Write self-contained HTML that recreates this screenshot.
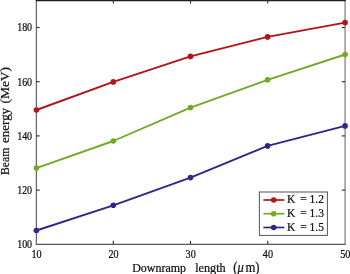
<!DOCTYPE html>
<html><head><meta charset="utf-8"><style>
html,body{margin:0;padding:0;background:#fff;width:350px;height:274px;overflow:hidden}
svg{display:block;will-change:transform}
text{font-family:"Liberation Serif",serif;fill:#111;stroke:#111;stroke-width:0.22px}
</style></head><body>
<svg width="350" height="274" viewBox="0 0 350 274">
<rect width="350" height="274" fill="#fff"/>
<line x1="36.4" y1="0" x2="36.4" y2="244.3" stroke="#6a6a6a" stroke-width="1.3"/>
<line x1="345.1" y1="0" x2="345.1" y2="244.3" stroke="#858585" stroke-width="1.3"/>
<line x1="35.8" y1="244.3" x2="345.7" y2="244.3" stroke="#5a5a5a" stroke-width="1.3"/>
<line x1="35.8" y1="0.6" x2="345.7" y2="0.6" stroke="#1e1e1e" stroke-width="1.2"/>
<g stroke="#333" stroke-width="1.15"><line x1="113.35" y1="244" x2="113.35" y2="240.8"/><line x1="113.35" y1="0" x2="113.35" y2="3.6"/><line x1="190.5" y1="244" x2="190.5" y2="240.8"/><line x1="190.5" y1="0" x2="190.5" y2="3.6"/><line x1="267.75" y1="244" x2="267.75" y2="240.8"/><line x1="267.75" y1="0" x2="267.75" y2="3.6"/><line x1="36.4" y1="190.1" x2="39.7" y2="190.1"/><line x1="345.1" y1="190.1" x2="341.8" y2="190.1"/><line x1="36.4" y1="135.9" x2="39.7" y2="135.9"/><line x1="345.1" y1="135.9" x2="341.8" y2="135.9"/><line x1="36.4" y1="81.7" x2="39.7" y2="81.7"/><line x1="345.1" y1="81.7" x2="341.8" y2="81.7"/><line x1="36.4" y1="27.5" x2="39.7" y2="27.5"/><line x1="345.1" y1="27.5" x2="341.8" y2="27.5"/></g>
<g fill="none" stroke-width="1.9" stroke-linejoin="round">
<polyline stroke="#b2141a" points="36.4,110 113.3,81.9 190.5,56.4 267.6,36.9 345.1,22.6"/>
<polyline stroke="#72aa28" points="36.4,168.1 113.3,141 190.5,107.6 267.6,79.8 345.1,54.5"/>
<polyline stroke="#2d2887" points="36.4,230.5 113.3,205.3 190.5,177.6 267.6,145.9 345.1,125.9"/>
</g>
<circle cx="36.4" cy="110" r="2.8" fill="#b2141a"/><circle cx="113.3" cy="81.9" r="2.8" fill="#b2141a"/><circle cx="190.5" cy="56.4" r="2.8" fill="#b2141a"/><circle cx="267.6" cy="36.9" r="2.8" fill="#b2141a"/><circle cx="345.1" cy="22.6" r="2.8" fill="#b2141a"/><circle cx="36.4" cy="168.1" r="2.8" fill="#72aa28"/><circle cx="113.3" cy="141" r="2.8" fill="#72aa28"/><circle cx="190.5" cy="107.6" r="2.8" fill="#72aa28"/><circle cx="267.6" cy="79.8" r="2.8" fill="#72aa28"/><circle cx="345.1" cy="54.5" r="2.8" fill="#72aa28"/><circle cx="36.4" cy="230.5" r="2.8" fill="#2d2887"/><circle cx="113.3" cy="205.3" r="2.8" fill="#2d2887"/><circle cx="190.5" cy="177.6" r="2.8" fill="#2d2887"/><circle cx="267.6" cy="145.9" r="2.8" fill="#2d2887"/><circle cx="345.1" cy="125.9" r="2.8" fill="#2d2887"/>
<g font-size="10.5"><text transform="translate(32.1,248.20) scale(0.95,1.1)" text-anchor="end">100</text><text transform="translate(32.1,194.00) scale(0.95,1.1)" text-anchor="end">120</text><text transform="translate(32.1,139.80) scale(0.95,1.1)" text-anchor="end">140</text><text transform="translate(32.1,85.60) scale(0.95,1.1)" text-anchor="end">160</text><text transform="translate(32.1,31.40) scale(0.95,1.1)" text-anchor="end">180</text><text transform="translate(36.55,258.2) scale(0.97,1.1)" text-anchor="middle">10</text><text transform="translate(113.50,258.2) scale(0.97,1.1)" text-anchor="middle">20</text><text transform="translate(190.65,258.2) scale(0.97,1.1)" text-anchor="middle">30</text><text transform="translate(267.90,258.2) scale(0.97,1.1)" text-anchor="middle">40</text><text transform="translate(345.25,258.2) scale(0.97,1.1)" text-anchor="middle">50</text></g>
<g font-size="12">
<text transform="translate(132.15,271.6) scale(1,1.1)">Downramp</text>
<text transform="translate(195.15,271.6) scale(1,1.1)" font-size="12.25">length</text>
<text transform="translate(233.35,271.6) scale(1,1.1)" font-size="12.5">(</text>
<text transform="translate(237.6,271.6) scale(1,1.1)" font-size="12.5" font-style="italic">μ</text>
<text transform="translate(245.5,271.6) scale(1,1.1)" font-size="12.7">m)</text>
</g>
<g font-size="12">
<text transform="translate(8.8,174.94) rotate(-90) scale(0.97,1)">Beam</text>
<text transform="translate(8.8,142.9) rotate(-90) scale(1.08,1)">energy</text>
<text transform="translate(8.8,103.5) rotate(-90) scale(1.117,1)">(MeV)</text>
</g>
<rect x="259.4" y="192" width="68" height="43.4" fill="#fff" stroke="#555" stroke-width="1"/>
<g stroke-width="1.7">
<line x1="263.4" y1="200" x2="284.3" y2="200" stroke="#b2141a"/>
<line x1="263.4" y1="213.7" x2="284.3" y2="213.7" stroke="#72aa28"/>
<line x1="263.4" y1="227.5" x2="284.3" y2="227.5" stroke="#2d2887"/>
</g>
<circle cx="273.7" cy="200" r="2.8" fill="#b2141a"/>
<circle cx="273.7" cy="213.7" r="2.8" fill="#72aa28"/>
<circle cx="273.7" cy="227.5" r="2.8" fill="#2d2887"/>
<g font-size="11.5">
<text x="286.9" y="202.7">K</text><text x="300.2" y="202.7">= 1.2</text>
<text x="286.9" y="216.6">K</text><text x="300.2" y="216.6">= 1.3</text>
<text x="286.9" y="230.5">K</text><text x="300.2" y="230.5">= 1.5</text>
</g>
</svg>
</body></html>
